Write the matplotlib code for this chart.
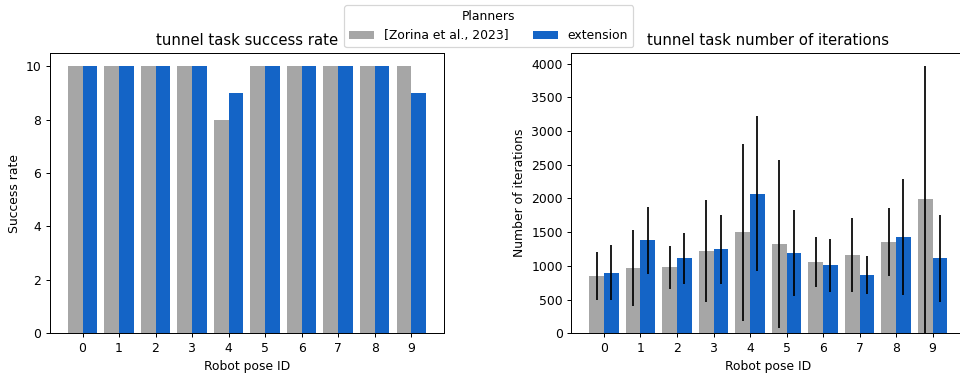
import numpy as np
import matplotlib
matplotlib.use("Agg")
import matplotlib.pyplot as plt

# data
pose_ids = np.arange(10)
labels = ['[Zorina et al., 2023]', 'extension']

success_base = [10, 10, 10, 10, 8, 10, 10, 10, 10, 10]
success_ext = [10, 10, 10, 10, 9, 10, 10, 10, 10, 9]

iters_base = [849, 963, 978, 1220, 1496, 1323, 1057, 1165, 1353, 1985]
iters_base_err = [362, 563, 321, 758, 1313, 1247, 368, 551, 504, 1978]
iters_ext = [899, 1378, 1111, 1244, 2069, 1190, 1007, 859, 1422, 1111]
iters_ext_err = [407, 498, 375, 511, 1150, 635, 393, 284, 861, 647]

gray = '#a6a6a6'
blue = '#1464c6'
w = 0.4

# the reference looks like a larger figure scaled down (~0.89)
scale = 0.889
fig = plt.figure(figsize=(9.6 / scale, 3.77 / scale), dpi=100 * scale)
ax1 = fig.add_axes([0.0521, 0.116, 0.41, 0.744])
ax2 = fig.add_axes([0.5953, 0.116, 0.41, 0.744])

# success rate
ax1.bar(pose_ids - w / 2, success_base, w, color=gray, label=labels[0])
ax1.bar(pose_ids + w / 2, success_ext, w, color=blue, label=labels[1])
ax1.set_title('tunnel task success rate')
ax1.set_ylabel('Success rate')
ax1.set_xlabel('Robot pose ID')
ax1.set_xticks(pose_ids)

# number of iterations
err_kw = dict(elinewidth=1.4, ecolor='black', capsize=0)
ax2.bar(pose_ids - w / 2, iters_base, w, yerr=iters_base_err,
        color=gray, error_kw=err_kw)
ax2.bar(pose_ids + w / 2, iters_ext, w, yerr=iters_ext_err,
        color=blue, error_kw=err_kw)
ax2.set_title('tunnel task number of iterations')
ax2.set_ylabel('Number of iterations')
ax2.set_xlabel('Robot pose ID')
ax2.set_xticks(pose_ids)
ax2.set_ylim(0, 4160)

handles, lbls = ax1.get_legend_handles_labels()
fig.legend(handles, lbls, title='Planners', ncol=2,
           loc='upper center', bbox_to_anchor=(0.509, 1.003))

fig.savefig('out.png', dpi=100 * scale)
